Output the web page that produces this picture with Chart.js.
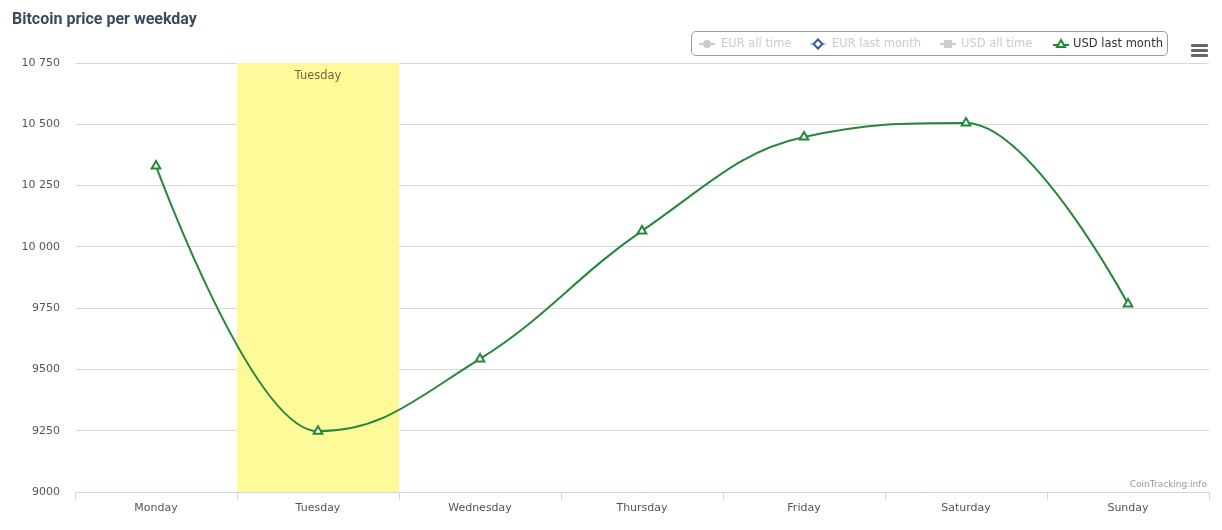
<!DOCTYPE html>
<html>
<head>
<meta charset="utf-8">
<script src="https://cdn.jsdelivr.net/npm/chart.js@4/dist/chart.umd.min.js"></script>
<style>
  html, body { margin: 0; padding: 0; background: #fff; }
  #wrap { position: relative; width: 1222px; height: 530px; overflow: hidden; }
  #c { position: absolute; left: 0; top: 0; }
  #title { position: absolute; left: 12px; top: 9px; font: bold 16px Roboto, "Liberation Sans", sans-serif; color: #3d4a5c; white-space: nowrap; }
  #legend { position: absolute; left: 691px; top: 31px; width: 475px; height: 23px; border: 1px solid #999; border-radius: 5px; box-sizing: content-box; }
  .li { position: absolute; top: 0; height: 23px; font: 11.5px "DejaVu Sans", sans-serif; line-height: 23px; white-space: nowrap; }
  .li svg { position: absolute; top: 4px; }
  .li span { position: absolute; top: 0; line-height: 23px; }
  #menu { position: absolute; left: 1191px; top: 44px; width: 17px; }
  #menu div { height: 3px; background: #666; margin-bottom: 2px; border-radius: 1px; }
</style>
</head>
<body>
<div id="wrap">
  <canvas id="c" width="1222" height="530"></canvas>
  <div id="title">Bitcoin price per weekday</div>
  <div id="legend"></div>
  <div id="menu"><div></div><div></div><div></div></div>
</div>
<script>
const categories = ['Monday', 'Tuesday', 'Wednesday', 'Thursday', 'Friday', 'Saturday', 'Sunday'];
const usdLastMonth = [10330, 9248, 9543, 10065, 10448, 10505, 9767];
const yTicks = [9000, 9250, 9500, 9750, 10000, 10250, 10500, 10750];
const seriesNames = ['EUR all time', 'EUR last month', 'USD all time', 'USD last month'];
const seriesVisible = [false, false, false, true];
const highlightCategory = 'Tuesday';
const creditText = 'CoinTracking.info';

const GREEN = '#23883a';

// Legend (HTML)
const legendPos = [
  {m: 15, t: 29}, {m: 126, t: 140}, {m: 256, t: 269}, {m: 369, t: 381}
];
const markers = [
  '<line x1="0" y1="8" x2="16" y2="8" stroke="#ccc" stroke-width="2"/><circle cx="8" cy="8" r="4" fill="#ccc"/>',
  '<line x1="0" y1="8" x2="16" y2="8" stroke="#ccc" stroke-width="2"/><path d="M8 3.5 L12.5 8 L8 12.5 L3.5 8 Z" fill="#fff" stroke="#2f5f9a" stroke-width="2"/>',
  '<line x1="0" y1="8" x2="16" y2="8" stroke="#ccc" stroke-width="2"/><rect x="4" y="4" width="8" height="8" fill="#ccc"/>',
  '<line x1="0" y1="9" x2="16" y2="9" stroke="' + GREEN + '" stroke-width="2"/><path d="M8 4 L12 11 L4 11 Z" fill="#fff" stroke="' + GREEN + '" stroke-width="2"/>'
];
const legendEl = document.getElementById('legend');
seriesNames.forEach((name, i) => {
  const d = document.createElement('div');
  d.className = 'li';
  d.style.left = '0px';
  d.innerHTML = '<svg width="16" height="16" style="left:' + (legendPos[i].m - 8) + 'px">' + markers[i] + '</svg>' +
    '<span style="left:' + legendPos[i].t + 'px;color:' + (seriesVisible[i] ? '#333' : '#ccc') + '">' + name + '</span>';
  legendEl.appendChild(d);
});

function fmt(v) {
  if (v >= 10000) {
    const s = String(v);
    return s.slice(0, s.length - 3) + ' ' + s.slice(s.length - 3);
  }
  return String(v);
}

// Highcharts-like spline control points computed from the element positions
const splinePlugin = {
  id: 'hcspline',
  beforeDatasetDraw(chart, args) {
    const meta = args.meta;
    const line = meta.dataset;
    const pts = meta.data;
    const sm = 1.5, den = sm + 1;
    for (let i = 0; i < pts.length; i++) {
      const p = pts[i];
      const prev = pts[i - 1], next = pts[i + 1];
      if (!prev || !next) {
        p.cp1x = p.x; p.cp1y = p.y; p.cp2x = p.x; p.cp2y = p.y;
        continue;
      }
      const lcx = (sm * p.x + prev.x) / den, rcx = (sm * p.x + next.x) / den;
      let lcy = (sm * p.y + prev.y) / den, rcy = (sm * p.y + next.y) / den;
      const corr = ((rcy - lcy) * (rcx - p.x)) / (rcx - lcx) + p.y - rcy;
      lcy += corr; rcy += corr;
      if (lcy > prev.y && lcy > p.y) { lcy = Math.max(prev.y, p.y); rcy = 2 * p.y - lcy; }
      else if (lcy < prev.y && lcy < p.y) { lcy = Math.min(prev.y, p.y); rcy = 2 * p.y - lcy; }
      if (rcy > next.y && rcy > p.y) { rcy = Math.max(next.y, p.y); lcy = 2 * p.y - rcy; }
      else if (rcy < next.y && rcy < p.y) { rcy = Math.min(next.y, p.y); lcy = 2 * p.y - rcy; }
      p.cp1x = lcx; p.cp1y = lcy; p.cp2x = rcx; p.cp2y = rcy;
    }
    line._pointsUpdated = true;
    line._path = undefined;
  }
};

const bandPlugin = {
  id: 'band',
  beforeDatasetsDraw(chart) {
    const x = chart.scales.x, area = chart.chartArea;
    const idx = categories.indexOf(highlightCategory);
    const c = x.getPixelForValue(idx);
    const half = (x.getPixelForValue(1) - x.getPixelForValue(0)) / 2;
    const ctx = chart.ctx;
    ctx.save();
    ctx.fillStyle = '#fffa99';
    ctx.fillRect(c - half, area.top, half * 2, area.bottom - area.top);
    ctx.fillStyle = '#6b6840';
    ctx.font = '11.5px "DejaVu Sans", sans-serif';
    ctx.textAlign = 'center';
    ctx.textBaseline = 'middle';
    ctx.fillText(highlightCategory, c, area.top + 13);
    ctx.restore();
  },
  afterDraw(chart) {
    const ctx = chart.ctx, area = chart.chartArea;
    ctx.save();
    ctx.fillStyle = '#999';
    ctx.font = '9px "DejaVu Sans", sans-serif';
    ctx.textAlign = 'right';
    ctx.textBaseline = 'middle';
    ctx.fillText(creditText, area.right - 2, area.bottom - 7);
    ctx.restore();
  }
};

new Chart(document.getElementById('c'), {
  type: 'line',
  data: {
    labels: categories,
    datasets: [{
      label: seriesNames[3],
      data: usdLastMonth,
      borderColor: GREEN,
      backgroundColor: '#fff',
      borderWidth: 2,
      tension: 0.4,
      pointStyle: 'triangle',
      pointRadius: 5,
      pointBorderWidth: 2,
      pointBackgroundColor: '#fff',
      pointBorderColor: GREEN,
      fill: false
    }]
  },
  plugins: [bandPlugin, splinePlugin],
  options: {
    responsive: false,
    devicePixelRatio: 1,
    animation: false,
    layout: { padding: { left: 0, right: 13, top: 63, bottom: 0 } },
    plugins: { legend: { display: false }, tooltip: { enabled: false }, title: { display: false } },
    scales: {
      x: {
        type: 'category',
        offset: true,
        grid: { display: true, drawOnChartArea: false, drawTicks: true, offset: true, tickLength: 8, color: '#ccd6eb', lineWidth: 1 },
        border: { display: true, color: '#ccd6eb', width: 1 },
        ticks: { color: '#555', font: { family: 'DejaVu Sans', size: 11 }, padding: 2, maxRotation: 0 },
        afterFit(s) { s.height = 38; }
      },
      y: {
        min: yTicks[0],
        max: yTicks[yTicks.length - 1],
        afterBuildTicks(s) { s.ticks = yTicks.map(v => ({ value: v })); },
        grid: { drawTicks: false, color: (c) => c.tick && c.tick.value === yTicks[0] ? 'rgba(0,0,0,0)' : '#d8d8d8', lineWidth: 1 },
        border: { display: false },
        ticks: { color: '#555', font: { family: 'DejaVu Sans', size: 11 }, padding: 15, callback: (v) => fmt(v) },
        afterFit(s) { s.width = 75; }
      }
    }
  }
});
</script>
</body>
</html>
